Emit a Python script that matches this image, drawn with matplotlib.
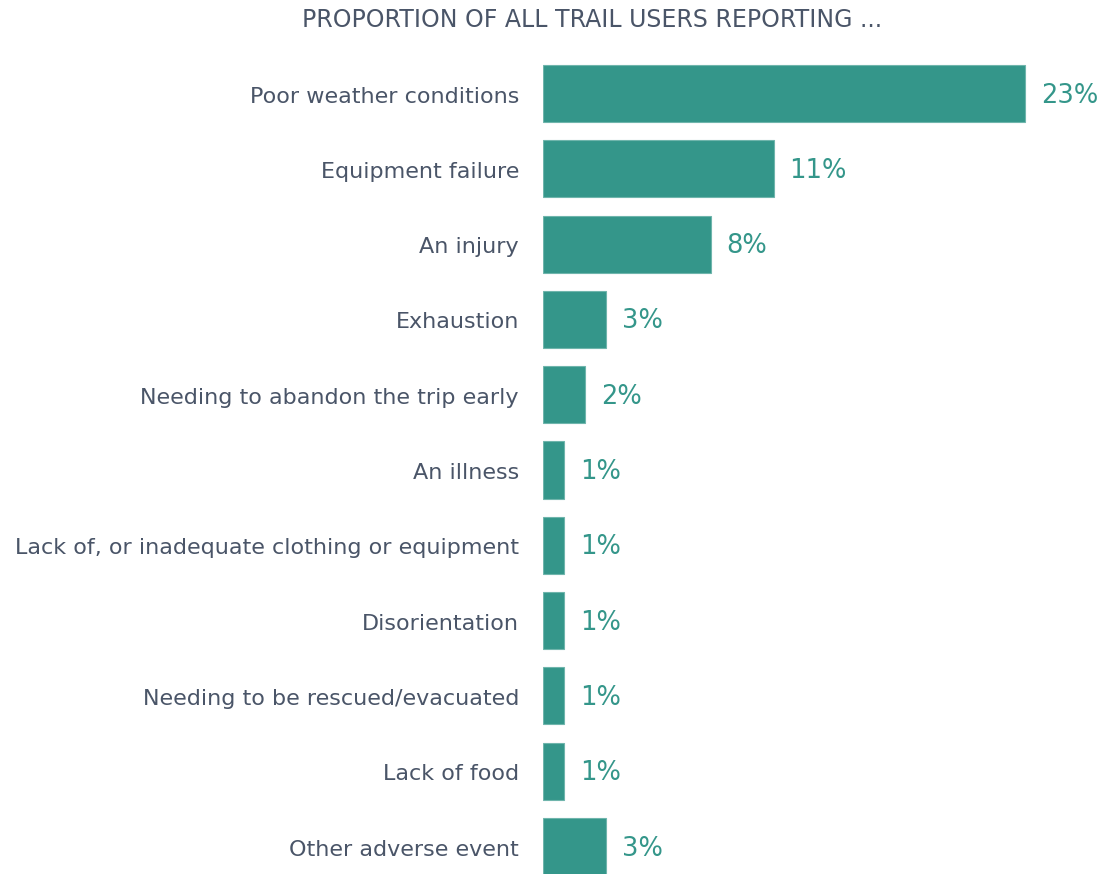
import matplotlib
matplotlib.use("Agg")
import matplotlib.pyplot as plt

categories = [
    "Poor weather conditions",
    "Equipment failure",
    "An injury",
    "Exhaustion",
    "Needing to abandon the trip early",
    "An illness",
    "Lack of, or inadequate clothing or equipment",
    "Disorientation",
    "Needing to be rescued/evacuated",
    "Lack of food",
    "Other adverse event",
]
values = [23, 11, 8, 3, 2, 1, 1, 1, 1, 1, 3]

TEAL = "#34968A"
SLATE = "#4A5568"

plt.rcParams["font.family"] = ["DejaVu Sans"]

fig = plt.figure(figsize=(11.15, 8.74), dpi=100)
ax = fig.add_axes([543 / 1115, 0, 1 - 543 / 1115, 1 - 55.85 / 874])

ypos = list(range(len(categories)))
ax.barh(ypos, values, height=0.757, color=TEAL, edgecolor="#6FB5AC", linewidth=0.8)

ax.set_xlim(0, 572 / 20.96)
ax.set_ylim((874 - 93.5) / 75.3, -0.5)

for y, v, name in zip(ypos, values, categories):
    ax.text(v + 0.75, y + 0.12, f"{v}%", va="baseline", ha="left", fontsize=18.5,
            color=TEAL)
    ax.text(-1.15, y + 0.12, name, va="baseline", ha="right", fontsize=16,
            color=SLATE)

ax.axis("off")

fig.text(592 / 1115, 1 - 27 / 874, "PROPORTION OF ALL TRAIL USERS REPORTING ...",
         ha="center", va="baseline", fontsize=17, color=SLATE)

fig.savefig("out.png", dpi=100)
